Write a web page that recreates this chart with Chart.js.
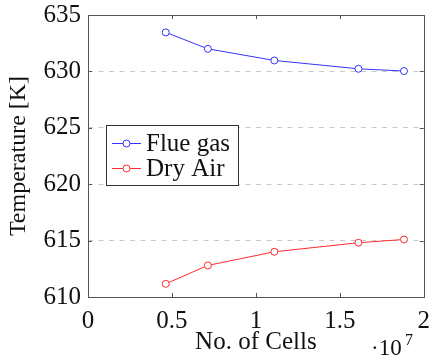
<!DOCTYPE html>
<html>
<head>
<meta charset="utf-8">
<script src="https://cdn.jsdelivr.net/npm/chart.js@4/dist/chart.umd.min.js"></script>
<style>
    html, body { margin: 0; padding: 0; background: #fff; }
    #wrap { width: 434px; height: 362px; }
</style>
</head>
<body>
<div id="wrap"><canvas id="cellsChart"></canvas></div>
<script>
// mesh size in units of 1e7 cells
const cellCounts = [0.463, 0.714, 1.110, 1.611, 1.882];
const flueGasTemp = [633.46, 632.0, 630.97, 630.23, 630.03];
const dryAirTemp = [611.17, 612.8, 614.01, 614.81, 615.1];
const xTicks = [0, 0.5, 1, 1.5, 2];
const yTicks = [610, 615, 620, 625, 630, 635];

const serif = "'Liberation Serif', 'DejaVu Serif', serif";

function toPoints(ys) {
    return cellCounts.map((x, i) => ({ x: x, y: ys[i] }));
}

// frame, inward tick marks, boxed legend and the x exponent
const framePlugin = {
    id: 'frame',
    afterDraw(chart) {
        const ctx = chart.ctx;
        const area = chart.chartArea;
        const xs = chart.scales.x;
        const ys = chart.scales.y;
        ctx.save();
        ctx.strokeStyle = '#555';
        ctx.lineWidth = 1;
        ctx.beginPath();
        xTicks.forEach(t => {
            const px = Math.round(xs.getPixelForValue(t)) + 0.5;
            ctx.moveTo(px, area.bottom); ctx.lineTo(px, area.bottom - 4);
            ctx.moveTo(px, area.top); ctx.lineTo(px, area.top + 4);
        });
        yTicks.forEach(t => {
            const py = Math.round(ys.getPixelForValue(t)) + 0.5;
            ctx.moveTo(area.left, py); ctx.lineTo(area.left + 4, py);
            ctx.moveTo(area.right, py); ctx.lineTo(area.right - 4, py);
        });
        ctx.stroke();
        ctx.strokeRect(Math.round(area.left) + 0.5, Math.round(area.top) + 0.5,
            Math.round(area.right - area.left), Math.round(area.bottom - area.top));

        // legend
        const bx = 106.5, by = 125.5, bw = 132, bh = 60;
        ctx.fillStyle = '#fff';
        ctx.fillRect(bx, by, bw, bh);
        ctx.strokeStyle = '#333';
        ctx.strokeRect(bx, by, bw, bh);
        ctx.font = '25px ' + serif;
        ctx.textBaseline = 'middle';
        ctx.textAlign = 'left';
        chart.data.datasets.forEach((ds, i) => {
            const ry = 143.5 + i * 25;
            ctx.strokeStyle = ds.borderColor;
            ctx.beginPath();
            ctx.moveTo(112, ry); ctx.lineTo(141, ry);
            ctx.stroke();
            ctx.fillStyle = '#fff';
            ctx.beginPath();
            ctx.arc(126.5, ry, 3.5, 0, Math.PI * 2);
            ctx.fill();
            ctx.stroke();
            ctx.fillStyle = '#111';
            ctx.fillText(ds.label, 146, ry + 1);
        });

        // exponent of the x axis
        ctx.fillStyle = '#111';
        ctx.textBaseline = 'alphabetic';
        ctx.font = '23px ' + serif;
        ctx.fillText('\u00b710', 371, 355);
        ctx.font = '16px ' + serif;
        ctx.fillText('7', 405, 345);
        ctx.restore();
    }
};

function seriesStyle(color) {
    return {
        borderColor: color,
        backgroundColor: '#fff',
        borderWidth: 1,
        pointRadius: 3.5,
        pointBorderWidth: 1,
        pointBackgroundColor: '#fff',
        pointBorderColor: color,
        tension: 0,
        fill: false
    };
}

new Chart(document.getElementById('cellsChart'), {
    type: 'line',
    data: {
        datasets: [
            Object.assign({ label: 'Flue gas', data: toPoints(flueGasTemp) }, seriesStyle('#3333ff')),
            Object.assign({ label: 'Dry Air', data: toPoints(dryAirTemp) }, seriesStyle('#ff2a2a'))
        ]
    },
    options: {
        responsive: true,
        maintainAspectRatio: false,
        animation: false,
        layout: { padding: { top: 15, right: 8, left: 0, bottom: 0 } },
        plugins: {
            legend: { display: false },
            tooltip: { enabled: false }
        },
        scales: {
            x: {
                type: 'linear',
                min: 0,
                max: 2,
                afterBuildTicks: s => { s.ticks = xTicks.map(v => ({ value: v })); },
                afterFit: s => { s.height = 65; },
                grid: { display: false },
                border: { display: false },
                ticks: {
                    font: { family: serif, size: 25, lineHeight: 1 },
                    color: '#111',
                    padding: 4,
                    maxRotation: 0,
                    callback: v => String(v)
                },
                title: {
                    display: true,
                    text: 'No. of Cells',
                    font: { family: serif, size: 25 },
                    color: '#111',
                    padding: { top: 0, bottom: 5 }
                }
            },
            y: {
                type: 'linear',
                min: 610,
                max: 635,
                afterBuildTicks: s => { s.ticks = yTicks.map(v => ({ value: v })); },
                afterFit: s => { s.width = 88; s.paddingTop = 0; s.paddingBottom = 0; },
                border: { display: false, dash: [5, 5.5] },
                grid: {
                    drawTicks: false,
                    color: c => (c.tick && (c.tick.value === 610 || c.tick.value === 635)) ? 'rgba(0,0,0,0)' : '#c8c8c8',
                    lineWidth: 1
                },
                ticks: {
                    font: { family: serif, size: 25, lineHeight: 1 },
                    color: '#111',
                    padding: 7
                },
                title: {
                    display: true,
                    text: 'Temperature [K]',
                    font: { family: serif, size: 24 },
                    color: '#111',
                    padding: { top: 4, bottom: 0 }
                }
            }
        }
    },
    plugins: [framePlugin]
});
</script>
</body>
</html>
